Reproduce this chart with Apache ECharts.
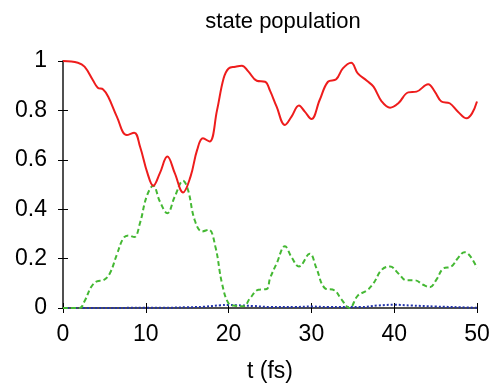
<!DOCTYPE html>
<html><head><meta charset="utf-8">
<script src="https://cdn.jsdelivr.net/npm/echarts@6/dist/echarts.min.js"></script>
<style>html,body{margin:0;padding:0;background:#fff}#c{width:497px;height:388px}</style>
</head><body><div id="c"></div>
<script>
var redT = [0,1.8,2.6,3.6,4.2,4.85,5.45,6.5,7.7,8.6,9.3,10.2,10.9,11.7,12.6,13.5,14.5,15.4,16.2,16.9,17.7,18.6,19.4,20,20.8,21.6,22.4,23.4,24.4,25.0,25.8,26.8,27.6,28.5,29.2,30,31,32,33,33.8,34.8,35.6,36.7,37.5,38.5,39.5,40.5,41.7,42.7,44.1,44.9,45.7,46.7,47.7,48.75,49.4,50];
var redP = [1.0,0.993,0.977,0.923,0.892,0.885,0.856,0.775,0.70,0.71,0.654,0.546,0.495,0.546,0.613,0.546,0.468,0.532,0.64,0.687,0.674,0.80,0.93,0.97,0.977,0.981,0.957,0.92,0.916,0.88,0.815,0.741,0.775,0.82,0.795,0.765,0.842,0.916,0.926,0.97,0.993,0.95,0.92,0.896,0.836,0.811,0.829,0.873,0.876,0.906,0.876,0.836,0.829,0.795,0.768,0.788,0.836];
var greenT = [0,2,2.6,3.4,4.1,4.85,5.65,6.5,7.3,7.9,8.6,9.3,10.1,10.9,11.7,12.6,13.5,14.5,15.1,15.9,16.8,17.6,18.4,19.2,20,20.8,21.8,22.6,23.6,24.6,25.0,25.8,26.8,27.6,28.5,29.8,30.6,31.6,32.8,33.6,34.6,35.6,36.7,37.5,38.5,39.5,40.5,41.5,42.5,43.5,44.3,45.1,45.9,46.9,47.7,48.5,49.2,50];
var greenP = [0,0,0.027,0.085,0.108,0.112,0.14,0.216,0.283,0.294,0.287,0.344,0.451,0.495,0.431,0.384,0.451,0.515,0.478,0.357,0.31,0.317,0.249,0.10,0.018,0.009,0.007,0.04,0.074,0.077,0.12,0.18,0.25,0.206,0.168,0.22,0.162,0.081,0.071,0.036,0.0,0.05,0.071,0.10,0.155,0.168,0.14,0.112,0.112,0.094,0.084,0.115,0.159,0.168,0.202,0.226,0.209,0.162];
var blueT = [0,5,10,12,15,17,19,20,21,23,25,28,30,32,36,38,40,42,45,48,50];
var blueP = [0,0,0.001,0.001,0.003,0.005,0.011,0.012,0.011,0.008,0.004,0.004,0.006,0.004,0.004,0.010,0.013,0.010,0.006,0.003,0.001];
var xTicks = [0,10,20,30,40,50];
var yTicks = [0,0.2,0.4,0.6,0.8,1];
var titleText = 'state population';
var xName = 't (fs)';

function pairs(t, v){ return t.map(function(x,i){ return [x, v[i]]; }); }

var font = 'Liberation Sans, Arial, sans-serif';
var chart = echarts.init(document.getElementById('c'), null, {renderer:'canvas'});
var tickStyle = {show:true, inside:true, length:5, lineStyle:{color:'#000', width:1}};
var lineStyleAx = {show:true, lineStyle:{color:'#444', width:1.5}};
chart.setOption({
  animation:false,
  backgroundColor:'#fff',
  title:{text:titleText, left:278, top:6, textAlign:'center',
    textStyle:{fontFamily:font, fontSize:22, fontWeight:'normal', color:'#000'}},
  grid:{left:63, right:20, top:61, bottom:78},
  xAxis:[{type:'value', min:0, max:50, interval:10, position:'bottom',
    name:xName, nameLocation:'middle', nameGap:52,
    nameTextStyle:{fontFamily:font, fontSize:23, color:'#000'},
    axisLine:lineStyleAx, axisTick:tickStyle, splitLine:{show:false},
    axisLabel:{fontFamily:font, fontSize:23, color:'#000', margin:15,
      formatter:function(v){ return xTicks.indexOf(v)>=0 ? String(v) : ''; }}},
    {type:'value', min:0, max:50, interval:10, position:'top',
    axisLine:lineStyleAx, axisTick:tickStyle, splitLine:{show:false}, axisLabel:{show:false}}],
  yAxis:[{type:'value', min:0, max:1, interval:0.2, position:'left',
    axisLine:lineStyleAx, axisTick:tickStyle, splitLine:{show:false},
    axisLabel:{fontFamily:font, fontSize:23, color:'#000', margin:16,
      formatter:function(v){ var r=Math.round(v*10)/10; return yTicks.indexOf(r)>=0 ? String(r) : ''; }}},
    {type:'value', min:0, max:1, interval:0.2, position:'right',
    axisLine:lineStyleAx, axisTick:tickStyle, splitLine:{show:false}, axisLabel:{show:false}}],
  series:[
    {type:'line', data:pairs(blueT, blueP), smooth:0.4, showSymbol:false,
      lineStyle:{color:'#2233aa', width:2, type:[2,2]}, z:3},
    {type:'line', data:pairs(greenT, greenP), smooth:0.4, showSymbol:false,
      lineStyle:{color:'#44b833', width:2, type:[5,3]}, z:4},
    {type:'line', data:pairs(redT, redP), smooth:0.4, showSymbol:false,
      lineStyle:{color:'#ee1c1c', width:2}, z:5}
  ]
});
</script></body></html>
